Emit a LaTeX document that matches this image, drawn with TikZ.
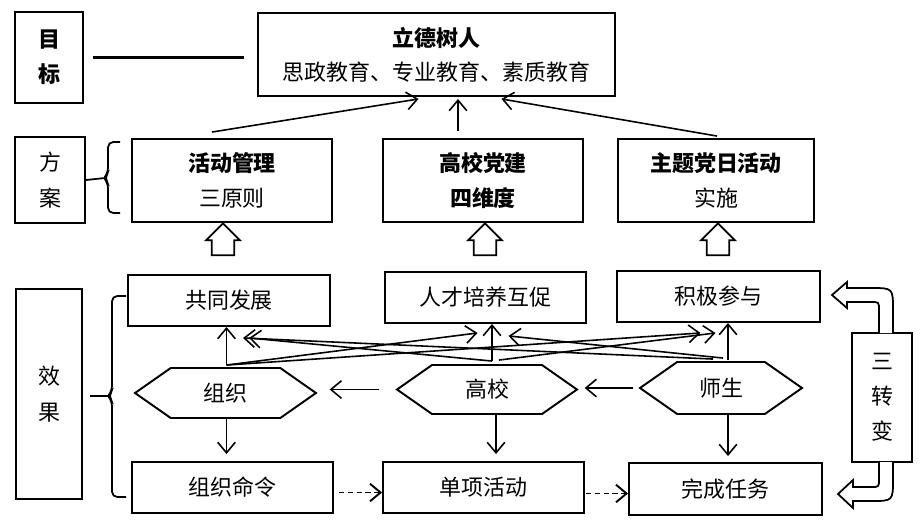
\documentclass[tikz,border=0pt]{standalone}
\usepackage{fontspec}
\setmainfont{Noto Sans CJK SC}
\usetikzlibrary{arrows.meta, shapes.symbols, shapes.arrows, positioning, calc}

\begin{document}
\begin{tikzpicture}[
    x=0.02cm, y=-0.02cm,
    box/.style={
        draw, line width=1.1pt, align=center, inner sep=0pt,
        font=\fontsize{12.5}{19.5}\selectfont
    },
    hexa/.style={
        signal, signal to=east and west, signal pointer angle=70,
        draw, line width=1.1pt, inner sep=0pt,
        font=\fontsize{12.5}{19.5}\selectfont
    },
    hollow/.style={
        single arrow, draw, line width=1pt, fill=white,
        shape border rotate=90, inner sep=0.16cm,
        minimum height=0.64cm, minimum width=0.68cm,
        single arrow head extend=0.09cm
    },
    link/.style={-{Straight Barb[length=6pt, width=10pt]}, line width=0.9pt},
    dashlink/.style={link, line width=1.1pt, dash pattern=on 3pt off 2pt},
]
\useasboundingbox (0,0) rectangle (920,529);

% left column
\node[box, minimum width=1.36cm, minimum height=1.82cm, font=\fontsize{12.5}{20}\selectfont\bfseries] (mubiao) at (49,57.5) {目\\标};
\node[box, minimum width=1.4cm, minimum height=1.72cm, font=\fontsize{12.5}{20}\selectfont] (fangan) at (50,180) {方\\案};
\node[box, minimum width=1.32cm, minimum height=4.2cm, font=\fontsize{12.5}{20.5}\selectfont] (xiaoguo) at (49,394) {效\\果};

% goal and plan
\node[box, minimum width=7.14cm, minimum height=1.66cm] (lide) at (436.5,54.5) {{\bfseries 立德树人}\\思政教育、专业教育、素质教育};
\node[box, minimum width=4.0cm, minimum height=1.66cm] (huodong) at (232,180.5) {{\bfseries 活动管理}\\三原则};
\node[box, minimum width=4.0cm, minimum height=1.66cm] (dangjian) at (483,180.5) {{\bfseries 高校党建}\\{\bfseries 四维度}};
\node[box, minimum width=3.92cm, minimum height=1.66cm] (zhuti) at (716,180.5) {{\bfseries 主题党日活动}\\实施};

% effects
\node[box, minimum width=4.04cm, minimum height=1.02cm] (gongtong) at (229,300.5) {共同发展};
\node[box, minimum width=4.02cm, minimum height=1.02cm] (rencai) at (485.5,297.5) {人才培养互促};
\node[box, minimum width=4.06cm, minimum height=1.02cm] (jiji) at (718.5,296.5) {积极参与};

\node[hexa, minimum width=3.62cm, minimum height=1.0cm] (zuzhi) at (225.5,393) {组织};
\node[hexa, minimum width=3.6cm, minimum height=0.98cm] (gaoxiao) at (487,389.5) {高校};
\node[hexa, minimum width=3.24cm, minimum height=1.04cm] (shisheng) at (721,388) {师生};

\node[box, minimum width=4.02cm, minimum height=1.02cm] (mingling) at (232.5,487.5) {组织命令};
\node[box, minimum width=4.02cm, minimum height=1.02cm] (danxiang) at (483.5,487.5) {单项活动};
\node[box, minimum width=3.86cm, minimum height=1.04cm] (wancheng) at (725.5,489) {完成任务};

\node[box, minimum width=1.2cm, minimum height=2.58cm, font=\fontsize{12.5}{20}\selectfont] (sanzhuan) at (882,397.5) {三\\转\\变};

% hollow arrows from plan rows
\node[hollow] (up1) at (223,245) {};
\node[hollow] (up2) at (485,245) {};
\node[hollow] (up3) at (718,245) {};

% start points of the connectors
\coordinate (djtop) at ($(dangjian.north)+(-25,-7)$);
\coordinate (zztop) at ($(zuzhi.north)+(1,-2)$);
\coordinate (gxtop) at ($(gaoxiao.north)+(5,-3)$);
\coordinate (sstop) at ($(shisheng.north)+(7,-1)$);
\coordinate (zzbot) at ($(zuzhi.south)+(1,0)$);
\coordinate (gxbot) at ($(gaoxiao.south)+(9,0)$);
\coordinate (ssbot) at ($(shisheng.south)+(7,0)$);

% goal line and braces
\draw[line width=1.2pt, shorten <=0.18cm, shorten >=0.26cm] (mubiao.east) -- (mubiao.east -| lide.west);
\draw[line width=1pt, rounded corners=3pt] (120,142) -- (108,142) -- (108,173) -- (104,178) -- (108,183) -- (108,213) -- (120,213);
\draw[line width=1pt] (fangan.east) -- (105,178);
\draw[line width=1pt, rounded corners=3pt] (126,296) -- (112,296) -- (112,391) -- (108,396) -- (112,401) -- (112,497) -- (126,497);
\draw[line width=1pt, shorten <=0.14cm] (xiaoguo.east |- 0,396) -- (109,396);

% plan -> goal
\draw[link] ($(huodong.north)+(-20,-6)$) -- ($(lide.south)+(-18,2)$);
\draw[link, shorten >=0.04cm] (djtop) -- (djtop |- lide.south);
\draw[link] ($(zhuti.north)+(1,-2)$) -- ($(lide.south)+(65,2)$);

% actors -> effects
\draw[link] (zztop) -- (zztop |- gongtong.south);
\draw[link] (zztop) -- ($(rencai.south)+(-8,9)$);
\draw[link] (zztop) -- ($(jiji.south)+(-18,10)$);
\draw[link] (gxtop) -- (gxtop |- rencai.south);
\draw[link] (gxtop) -- ($(gongtong.south)+(20,11)$);
\draw[link] ($(gaoxiao.north)+(12,-4)$) -- ($(jiji.south)+(-3,10)$);
\draw[link] ($(shisheng.north)+(2,-3)$) -- ($(rencai.south)+(23,12)$);
\draw[link] ($(shisheng.north)+(-8,-2)$) -- ($(gongtong.south)+(14,11)$);
\draw[link] (sstop) -- (sstop |- jiji.south);

% actors to the left
\draw[link, shorten <=0.32cm, shorten >=0.24cm] (gaoxiao.west) -- (gaoxiao.west -| zuzhi.east);
\draw[link, shorten <=0.1cm, shorten >=0.12cm] (shisheng.west) -- (shisheng.west -| gaoxiao.east);

% actors down to tasks
\draw[link, shorten >=0.14cm] (zzbot) -- (zzbot |- mingling.north);
\draw[link, shorten >=0.14cm] (gxbot) -- (gxbot |- danxiang.north);
\draw[link, shorten >=0.12cm] (ssbot) -- (ssbot |- wancheng.north);

% task chain
\draw[dashlink, shorten <=0.1cm] ([yshift=-0.1cm]mingling.east) -- ([yshift=-0.1cm]mingling.east -| danxiang.west);
\draw[dashlink, shorten <=0.02cm] ([yshift=-0.12cm]danxiang.east) -- ([yshift=-0.12cm]danxiang.east -| wancheng.west);

% bent hollow arrows of the three changes
\draw[line width=1pt, fill=white] (879,333) -- (879,310) .. controls (879,302) .. (871,302) -- (847,302) -- (847,308) -- (832,295) -- (847,282) -- (847,288) -- (871,288) .. controls (893,288) .. (893,310) -- (893,333);
\draw[line width=1pt, fill=white] (879,462) -- (879,479) .. controls (879,487) .. (871,487) -- (853,487) -- (853,480) -- (838,494) -- (853,508) -- (853,501) -- (871,501) .. controls (893,501) .. (893,479) -- (893,462);

\end{tikzpicture}
\end{document}
